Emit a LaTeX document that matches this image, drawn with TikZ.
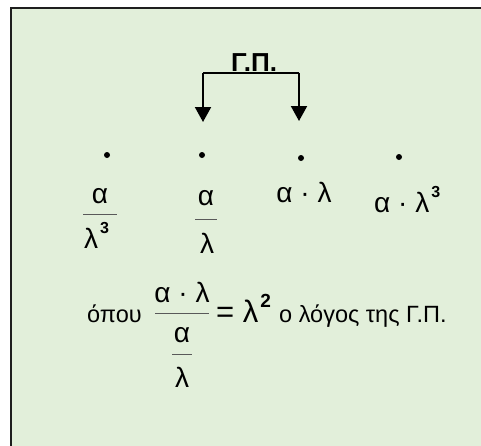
\documentclass[tikz,border=0pt]{standalone}
\usepackage{fontspec}
\setmainfont{Liberation Sans}
\usetikzlibrary{arrows.meta}
\definecolor{panel}{RGB}{226,239,218}
\definecolor{frame}{RGB}{30,30,30}
\tikzset{
  big/.style={font=\fontsize{28}{28}\selectfont, inner sep=0pt},
  eqn/.style={font=\fontsize{31}{31}\selectfont, inner sep=0pt},
  sm/.style={font=\fontsize{23.5}{23.5}\selectfont, inner sep=0pt},
  title/.style={font=\bfseries\fontsize{26}{26}\selectfont, inner sep=0pt},
  dotmark/.style={circle, fill=black, inner sep=0pt, minimum size=6pt},
  fracbar/.style={draw=black!65, line width=1pt},
  link/.style={line width=2pt, -{Triangle[width=16pt,length=15pt]}}
}
\newcommand{\supn}[2][16]{\hspace{2pt}\raisebox{15pt}{\bfseries\fontsize{#1}{#1}\selectfont #2}}
\begin{document}
\begin{tikzpicture}[x=1pt,y=-1pt]
\useasboundingbox (0,0) rectangle (481,445);
\clip (0,0) rectangle (481,445);
\fill[white] (0,0) rectangle (481,445);
\draw[frame, fill=panel, line width=2pt] (11,8) rectangle (500,470);

% title and bracket
\node[title, anchor=base] (gp) at (254,71) {Γ.Π.};
\coordinate (bl) at (203,72.5);
\coordinate (br) at (299,72.5);
\coordinate (tl) at (203,122);
\coordinate (tr) at (299,121);
\draw[line width=2pt] (br) -- (bl);
\draw[link] (bl) -- (tl);
\draw[link] (br) -- (tr);

% dots
\node[dotmark] (d1) at (107,155) {};
\node[dotmark] (d2) at (202,155) {};
\node[dotmark] (d3) at (301,158) {};
\node[dotmark] (d4) at (399,157) {};

% term 1: alpha / lambda^3
\node[big, anchor=base] (n1) at (100,203) {α};
\draw[fracbar] (83,214) -- (117,214);
\node[big, anchor=base west] (m1) at (84,248) {λ\supn{3}};

% term 2: alpha / lambda
\node[big, anchor=base] (n2) at (206,205) {α};
\draw[fracbar] (195,219) -- (217,219);
\node[big, anchor=base] (m2) at (207,253) {λ};

% term 3
\node[big, anchor=base] (t3) at (304,202) {α · λ};

% term 4
\node[big, anchor=base west] (t4) at (374,212) {α · λ\supn{3}};

% bottom line
\node[sm, anchor=base west] (opou) at (87,322) {όπου};
\node[big, anchor=base] (bn) at (182,302) {α · λ};
\draw[fracbar] (155,313) -- (209,313);
\node[big, anchor=base] (bd1) at (182,342) {α};
\draw[fracbar] (172,354) -- (192,354);
\node[big, anchor=base] (bd2) at (182,387) {λ};
\node[eqn, anchor=base west] (eq) at (216,322) {= λ\supn[19]{2}};
\node[sm, anchor=base west] (ratio) at (279,322) {ο λόγος της Γ.Π.};
\end{tikzpicture}
\end{document}
